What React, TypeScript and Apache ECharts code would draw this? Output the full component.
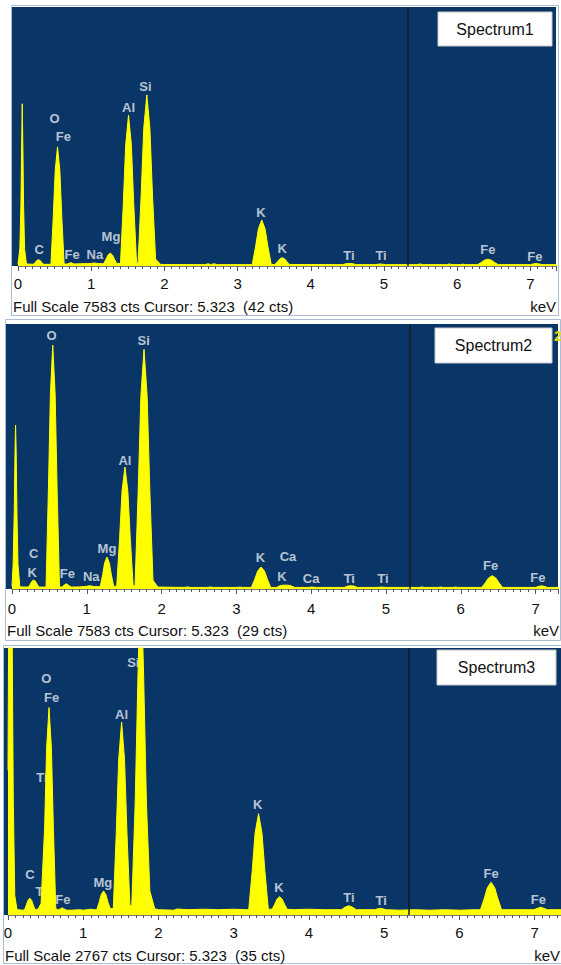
import React, { useEffect, useRef } from "react";
import * as echarts from "echarts";

// ---------- data (keV, counts) ----------
const spectrum1: number[][] = [
  [0, 60], [0.025, 500], [0.04, 1800], [0.05, 3600], [0.058, 4750], [0.066, 3600], [0.076, 1800], [0.09, 500], [0.115, 60],
  [0.21, 50], [0.2345, 104], [0.2555, 158], [0.28, 185], [0.3045, 158], [0.3255, 104], [0.35, 50],
  [0.45, 50], [0.4815, 1426], [0.5085, 2802], [0.54, 3490], [0.5715, 2802], [0.5985, 1426], [0.63, 60],
  [0.67, 55], [0.7, 80], [0.72, 100], [0.74, 80], [0.77, 60],
  [0.85, 65], [0.95, 70], [1.0, 75], [1.04, 90], [1.08, 75], [1.15, 65],
  [1.17, 70], [1.2015, 194], [1.2285, 318], [1.26, 380], [1.2915, 318], [1.3185, 194], [1.35, 70],
  [1.4, 70], [1.4385, 1810], [1.4715, 3550], [1.51, 4420], [1.5485, 3550], [1.5815, 1810], [1.62, 90],
  [1.64, 80], [1.682, 2050], [1.718, 4024], [1.76, 5010], [1.802, 4024], [1.838, 2050], [1.88, 200], [1.95, 45],
  [2.55, 40], [2.6, 65], [2.63, 40], [2.68, 65], [2.72, 40],
  [3.2, 40], [3.2455, 564], [3.2845, 1088], [3.33, 1350], [3.3755, 1088], [3.4145, 564], [3.46, 45],
  [3.51, 45], [3.545, 125], [3.575, 205], [3.61, 245], [3.645, 205], [3.675, 125], [3.71, 45],
  [4.43, 40], [4.49, 70], [4.53, 75], [4.57, 70], [4.62, 40],
  [4.88, 40], [4.95, 60], [5.02, 40],
  [5.45, 40], [5.5, 60], [5.53, 40], [5.85, 40], [5.9, 60], [5.93, 40], [6.05, 40], [6.08, 55], [6.11, 40],
  [6.28, 40], [6.329, 104], [6.371, 168], [6.42, 200], [6.469, 168], [6.511, 104], [6.56, 40],
  [7.0, 40], [7.05, 65], [7.08, 75], [7.11, 65], [7.16, 40], [7.4, 40],
];

const spectrum2: number[][] = [
  [0, 80], [0.015, 700], [0.03, 2200], [0.04, 3900], [0.048, 4690], [0.056, 3900], [0.066, 2200], [0.08, 700], [0.105, 60],
  [0.22, 55], [0.2445, 137], [0.2655, 219], [0.29, 260], [0.3145, 219], [0.3355, 137], [0.36, 55],
  [0.455, 55], [0.4865, 2825], [0.5135, 5595], [0.545, 6980], [0.5765, 5595], [0.6035, 2825], [0.635, 60],
  [0.67, 55], [0.7, 115], [0.725, 150], [0.75, 115], [0.79, 55],
  [0.9, 60], [0.98, 70], [1.04, 95], [1.1, 70],
  [1.18, 65], [1.2115, 405], [1.2385, 745], [1.27, 915], [1.3015, 745], [1.3285, 405], [1.36, 75],
  [1.4, 80], [1.4385, 1444], [1.4715, 2808], [1.51, 3490], [1.5485, 2808], [1.5815, 1444], [1.62, 90],
  [1.645, 90], [1.687, 2798], [1.723, 5506], [1.765, 6860], [1.807, 5506], [1.843, 2798], [1.885, 250], [1.95, 55],
  [2.3, 45], [2.35, 60], [2.38, 45], [2.6, 45], [2.65, 55], [2.7, 45], [3.0, 45], [3.05, 55], [3.08, 45],
  [3.2, 45], [3.2455, 279], [3.2845, 513], [3.33, 630], [3.3755, 513], [3.4145, 279], [3.46, 45],
  [3.54, 45], [3.58, 95], [3.62, 110], [3.68, 110], [3.72, 100], [3.78, 45],
  [3.95, 45], [4.01, 55], [4.07, 45],
  [4.44, 45], [4.49, 85], [4.53, 90], [4.57, 85], [4.62, 45],
  [4.88, 45], [4.94, 55], [5.0, 45],
  [5.45, 45], [5.48, 60], [5.51, 45], [5.7, 45], [5.73, 60], [5.76, 45], [5.9, 45], [5.93, 55], [5.96, 45],
  [6.28, 45], [6.329, 179], [6.371, 313], [6.42, 380], [6.469, 313], [6.511, 179], [6.56, 45],
  [7.0, 45], [7.05, 80], [7.08, 90], [7.11, 80], [7.16, 45], [7.35, 45],
];

const spectrum3: number[][] = [
  [0, 1500], [0.012, 3500], [0.03, 5000], [0.05, 3500], [0.07, 1200], [0.09, 200], [0.12, 55],
  [0.2, 50], [0.22, 55], [0.2445, 103], [0.2655, 151], [0.29, 175], [0.3145, 151], [0.3355, 103], [0.36, 55],
  [0.4, 60], [0.44, 120], [0.4865, 896], [0.5135, 1732], [0.545, 2150], [0.5765, 1732], [0.6035, 896], [0.635, 65],
  [0.67, 55], [0.7, 65], [0.72, 75], [0.74, 65], [0.78, 50],
  [0.85, 50], [0.95, 55], [1.0, 50], [1.1, 60], [1.15, 55],
  [1.18, 55], [1.2115, 133], [1.2385, 211], [1.27, 250], [1.3015, 211], [1.3285, 133], [1.36, 65],
  [1.4, 70], [1.4385, 842], [1.4715, 1614], [1.51, 2000], [1.5485, 1614], [1.5815, 842], [1.62, 100],
  [1.645, 95], [1.69, 1150], [1.728, 2500], [1.765, 3600], [1.802, 2500], [1.84, 1150], [1.885, 250], [1.95, 65],
  [2.0, 55], [2.2, 50], [2.25, 62], [2.4, 55], [2.6, 60], [2.8, 55], [3.0, 60], [3.15, 55],
  [3.2, 55], [3.2455, 453], [3.2845, 851], [3.33, 1050], [3.3755, 851], [3.4145, 453], [3.46, 60],
  [3.51, 60], [3.545, 112], [3.575, 164], [3.61, 190], [3.645, 164], [3.675, 112], [3.71, 60],
  [3.8, 55], [4.0, 60], [4.2, 55], [4.43, 55], [4.49, 85], [4.53, 95], [4.57, 85], [4.63, 55],
  [4.87, 55], [4.95, 70], [5.03, 55],
  [5.2, 50], [5.4, 55], [5.6, 50], [5.8, 55], [6.0, 50], [6.2, 55],
  [6.28, 55], [6.329, 169], [6.371, 283], [6.42, 340], [6.469, 283], [6.511, 169], [6.56, 55],
  [6.99, 55], [7.04, 70], [7.08, 80], [7.12, 70], [7.17, 55], [7.37, 55],
];

// peak labels: [element, keV, counts]
const peakLabels1: [string, number, number][] = [
  ["O", 0.5, 4330], ["Fe", 0.62, 3780], ["Al", 1.51, 4630], ["Si", 1.74, 5270],
  ["C", 0.29, 470], ["Fe", 0.74, 350], ["Na", 1.05, 350], ["Mg", 1.27, 850],
  ["K", 3.32, 1580], ["K", 3.61, 500], ["Ti", 4.52, 320], ["Ti", 4.96, 320],
  ["Fe", 6.42, 470], ["Fe", 7.06, 290],
];
const peakLabels2: [string, number, number][] = [
  ["O", 0.53, 7260], ["Si", 1.76, 7120], ["Al", 1.51, 3690], ["C", 0.29, 1030],
  ["K", 0.27, 460], ["Fe", 0.74, 430], ["Na", 1.06, 370], ["Mg", 1.27, 1170],
  ["K", 3.32, 890], ["Ca", 3.69, 920], ["K", 3.61, 370], ["Ca", 4.0, 290],
  ["Ti", 4.51, 310], ["Ti", 4.96, 310], ["Fe", 6.4, 660], ["Fe", 7.03, 340],
];
const peakLabels3: [string, number, number][] = [
  ["Si", 1.665, 2620], ["O", 0.51, 2455], ["Fe", 0.58, 2250], ["Al", 1.51, 2080],
  ["Ti", 0.45, 1430], ["K", 3.32, 1140], ["C", 0.29, 415], ["Ti", 0.44, 240],
  ["Fe", 0.73, 165], ["Mg", 1.26, 340], ["K", 3.6, 290], ["Ti", 4.53, 185],
  ["Ti", 4.96, 155], ["Fe", 6.42, 435], ["Fe", 7.05, 165],
];

const spectrumNames = ["Spectrum1", "Spectrum2", "Spectrum3"];
const fullScaleCounts = [7583, 7583, 2767];
const cursorKeV = 5.323;
const cursorCounts = [42, 29, 35];
const unitLabel = "keV";

// ---------- layout (pixels) ----------
const panels = [
  { gl: 18, gt: 7, gw: 538, gh: 259, xMax: 7.35, margin: 10,
    frame: [11.5, 5.5, 547, 310], bg: [12, 7, 544, 259], box: [438, 12, 114, 34],
    textX: 13, textY: 306, kevX: 556 },
  { gl: 12, gt: 324, gw: 546, gh: 265, xMax: 7.3, margin: 12,
    frame: [5.5, 319.5, 555, 321], bg: [6, 324, 552, 265], box: [435, 328, 117, 35],
    textX: 7, textY: 630, kevX: 559 },
  { gl: 8, gt: 648, gw: 553, gh: 267, xMax: 7.35, margin: 10,
    frame: [3.5, 645.5, 558, 318], bg: [4, 648, 557, 267], box: [437, 650, 119, 35],
    textX: 5, textY: 955, kevX: 560 },
];

const FONT = "'Liberation Sans', Arial, sans-serif";
const BG = "#0a3567";
const YELLOW = "#ffff00";

export default function App() {
  const ref = useRef<HTMLDivElement>(null);
  useEffect(() => {
    if (!ref.current) return;
    const chart = echarts.init(ref.current, undefined, { renderer: "svg" });
    const spectra = [spectrum1, spectrum2, spectrum3];
    const labels = [peakLabels1, peakLabels2, peakLabels3];

    const grid = panels.map((p) => ({
      left: p.gl, top: p.gt, width: p.gw, height: p.gh,
      containLabel: false, outerBoundsMode: "none",
    }));
    const xAxis = panels.map((p, i) => ({
      type: "value", gridIndex: i, min: 0, max: p.xMax, interval: 1, z: 5,
      axisLine: { show: true, onZero: false, lineStyle: { color: "#7a7a7a", width: 1 } },
      axisTick: { show: true, length: 5, lineStyle: { color: "#555" } },
      minorTick: { show: true, splitNumber: 10, length: 3, lineStyle: { color: "#555" } },
      splitLine: { show: false }, minorSplitLine: { show: false },
      axisLabel: { show: true, margin: p.margin, fontSize: 15, color: "#111", fontFamily: FONT, showMaxLabel: false },
    }));
    const yAxis = panels.map((p, i) => ({
      type: "value", gridIndex: i, min: 0, max: fullScaleCounts[i], show: false,
      splitLine: { show: false },
    }));

    const series: any[] = [];
    spectra.forEach((d, i) => {
      series.push({
        type: "scatter", xAxisIndex: i, yAxisIndex: i, z: 2, silent: true,
        symbolSize: 1, itemStyle: { color: "transparent" },
        data: labels[i].map((l) => ({ name: l[0], value: [l[1], l[2]] })),
        label: { show: true, position: "inside", formatter: "{b}", color: "#e6eaf0", fontSize: 13, fontWeight: "bold", fontFamily: FONT },
        labelLayout: { hideOverlap: false },
      });
      series.push({
        type: "line", xAxisIndex: i, yAxisIndex: i, z: 3, data: d, symbol: "none", showSymbol: false,
        clip: true, silent: true,
        lineStyle: { color: YELLOW, width: 1 },
        areaStyle: { color: YELLOW, opacity: 1 },
        markLine: {
          silent: true, symbol: ["none", "none"], label: { show: false },
          lineStyle: { color: "#1b1b1b", width: 1.5, type: "solid" },
          data: [{ xAxis: cursorKeV }],
        },
      });
    });

    const graphic: any[] = [];
    panels.forEach((p, i) => {
      graphic.push({ type: "rect", z: 0, shape: { x: p.frame[0], y: p.frame[1], width: p.frame[2], height: p.frame[3] },
        style: { fill: "#ffffff", stroke: "#a9bdd3", lineWidth: 1 } });
      graphic.push({ type: "rect", z: 1, shape: { x: p.bg[0], y: p.bg[1], width: p.bg[2], height: p.bg[3] },
        style: { fill: BG } });
      graphic.push({ type: "rect", z: 10, shape: { x: p.box[0], y: p.box[1], width: p.box[2], height: p.box[3] },
        style: { fill: "#ffffff", stroke: "#c8c8c8", lineWidth: 1 } });
      graphic.push({ type: "text", z: 11, x: p.box[0] + p.box[2] / 2, y: p.box[1] + p.box[3] / 2,
        style: { text: spectrumNames[i], fill: "#111", fontSize: 16, fontFamily: FONT, textAlign: "center", textVerticalAlign: "middle" } });
      graphic.push({ type: "text", z: 11, x: p.textX, y: p.textY,
        style: { text: `Full Scale ${fullScaleCounts[i]} cts Cursor: ${cursorKeV.toFixed(3)}  (${cursorCounts[i]} cts)`,
          fill: "#111", fontSize: 15, fontFamily: FONT, textAlign: "left", textVerticalAlign: "middle" } });
      graphic.push({ type: "text", z: 11, x: p.kevX, y: p.textY,
        style: { text: unitLabel, fill: "#111", fontSize: 15, fontFamily: FONT, textAlign: "right", textVerticalAlign: "middle" } });
    });
    graphic.push({ type: "text", z: 11, x: 554, y: 336,
      style: { text: "2", fill: "#d8d800", fontSize: 14, fontWeight: "bold", fontFamily: FONT, textAlign: "left", textVerticalAlign: "middle" } });

    chart.setOption({
      animation: false,
      backgroundColor: "#ffffff",
      grid, xAxis, yAxis, series, graphic,
    });
    return () => chart.dispose();
  }, []);

  return <div ref={ref} style={{ position: "absolute", left: 0, top: 0, width: 561, height: 965 }} />;
}
